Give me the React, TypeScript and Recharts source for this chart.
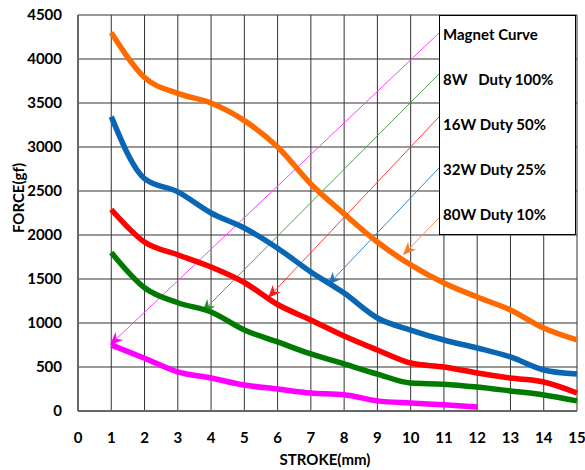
import { CartesianGrid, Label, Line, LineChart, ReferenceLine, XAxis, YAxis } from 'recharts'

const strokeMm = [1, 2, 3, 4, 5, 6, 7, 8, 9, 10, 11, 12, 13, 14, 15]
const magnetCurve = [750, 600, 445, 375, 295, 250, 205, 185, 115, 90, 70, 45]
const w8Duty100 = [1800, 1400, 1230, 1125, 920, 785, 648, 535, 420, 318, 305, 272, 228, 182, 115]
const w16Duty50 = [2290, 1920, 1775, 1636, 1460, 1210, 1034, 852, 693, 545, 500, 432, 375, 330, 205]
const w32Duty25 = [3345, 2640, 2490, 2250, 2080, 1850, 1580, 1340, 1057, 920, 807, 716, 614, 466, 420]
const w80Duty10 = [4300, 3790, 3610, 3500, 3300, 3000, 2580, 2240, 1920, 1660, 1455, 1295, 1148, 943, 807]

const xTicks = [0, 1, 2, 3, 4, 5, 6, 7, 8, 9, 10, 11, 12, 13, 14, 15]
const yTicks = [0, 500, 1000, 1500, 2000, 2500, 3000, 3500, 4000, 4500]

const legendNames = ['Magnet Curve', '8W   Duty 100%', '16W Duty 50%', '32W Duty 25%', '80W Duty 10%']

// callout arrows: from legend edge down to each curve
const arrowFromX = [10.85, 10.85, 10.85, 10.85, 10.85]
const arrowFromY = [4295, 3830, 3341, 2761, 2193]
const arrowToX = [0.96, 3.73, 5.71, 7.51, 9.77]
const arrowToY = [750, 1125, 1284, 1432, 1773]
const arrowColors = ['#ff40ff', '#4aa84a', '#ff4040', '#3a86cc', '#ff9040']
const arrowHeadColors = ['#ff00ff', '#2a922a', '#ff1a1a', '#1f74c4', '#ff7a1a']

const data = strokeMm.map((s, i) => ({
  stroke: s,
  magnet: magnetCurve[i],
  w8: w8Duty100[i],
  w16: w16Duty50[i],
  w32: w32Duty25[i],
  w80: w80Duty10[i],
}))

const FONT = 'Lato, "Liberation Sans", sans-serif'

function Arrow(props: any) {
  const { x1, y1, x2, y2, stroke, head } = props
  const ang = Math.atan2(y2 - y1, x2 - x1)
  const len = 13
  const half = 5.5
  const bx = x2 - len * Math.cos(ang)
  const by = y2 - len * Math.sin(ang)
  const nx = -Math.sin(ang)
  const ny = Math.cos(ang)
  const mx = x2 - len * 0.7 * Math.cos(ang)
  const my = y2 - len * 0.7 * Math.sin(ang)
  return (
    <g>
      <line x1={x1} y1={y1} x2={mx} y2={my} stroke={stroke} strokeWidth={1} />
      <polygon
        points={`${x2},${y2} ${bx + nx * half},${by + ny * half} ${mx},${my} ${bx - nx * half},${by - ny * half}`}
        fill={head}
      />
    </g>
  )
}

export default function App() {
  return (
    <div style={{ position: 'absolute', left: 0, top: 0, width: 585, height: 470, background: '#fff', fontFamily: FONT }}>
      <LineChart width={585} height={470} data={data} margin={{ top: 15, right: 8, bottom: 0, left: 0 }}>
        <CartesianGrid stroke="#333" strokeWidth={1} />
        <XAxis
          type="number"
          dataKey="stroke"
          domain={[0, 15]}
          ticks={xTicks}
          height={59}
          tickSize={0}
          tickMargin={21}
          axisLine={{ stroke: '#666', strokeWidth: 2 }}
          tick={{ fill: '#000', fontSize: 15, fontWeight: 700, fontFamily: FONT }}
        >
          <Label
            content={() => (
              <text x={325} y={465} textAnchor="middle" fontSize={15} fontWeight={700} fontFamily={FONT} fill="#000">
                STROKE(mm)
              </text>
            )}
          />
        </XAxis>
        <YAxis
          type="number"
          domain={[0, 4500]}
          ticks={yTicks}
          width={78}
          tickSize={0}
          tickMargin={16}
          axisLine={{ stroke: '#666', strokeWidth: 2 }}
          tick={{ fill: '#000', fontSize: 15, fontWeight: 700, fontFamily: FONT }}
        >
          <Label
            content={() => (
              <text
                transform="translate(24,198) rotate(-90)"
                textAnchor="middle"
                fontSize={15}
                fontWeight={700}
                fontFamily={FONT}
                fill="#000"
              >
                FORCE(gf)
              </text>
            )}
          />
        </YAxis>
        {arrowFromX.map((fx, i) => (
          <ReferenceLine
            key={i}
            segment={[
              { x: fx, y: arrowFromY[i] },
              { x: arrowToX[i], y: arrowToY[i] },
            ]}
            stroke={arrowColors[i]}
            shape={(p: any) => <Arrow {...p} stroke={arrowColors[i]} head={arrowHeadColors[i]} />}
          />
        ))}
        <Line type="monotone" dataKey="magnet" stroke="#ff00ff" strokeWidth={5.5} dot={false} isAnimationActive={false} />
        <Line type="monotone" dataKey="w8" stroke="#007a00" strokeWidth={5.5} dot={false} isAnimationActive={false} />
        <Line type="monotone" dataKey="w16" stroke="#ff0000" strokeWidth={5.5} dot={false} isAnimationActive={false} />
        <Line type="monotone" dataKey="w32" stroke="#0866b4" strokeWidth={5.5} dot={false} isAnimationActive={false} />
        <Line type="monotone" dataKey="w80" stroke="#ff6a00" strokeWidth={5.5} dot={false} isAnimationActive={false} />
      </LineChart>
      <div
        style={{
          position: 'absolute',
          left: 439,
          top: 15,
          width: 137,
          height: 220,
          boxSizing: 'border-box',
          border: '1.5px solid #000',
          background: '#fff',
        }}
      >
        {legendNames.map((name, i) => (
          <span
            key={name}
            style={{
              position: 'absolute',
              left: 3,
              top: 8 + i * 45,
              lineHeight: '20px',
              fontSize: 15,
              fontWeight: 700,
              whiteSpace: 'pre',
              color: '#000',
            }}
          >
            {name}
          </span>
        ))}
      </div>
    </div>
  )
}
